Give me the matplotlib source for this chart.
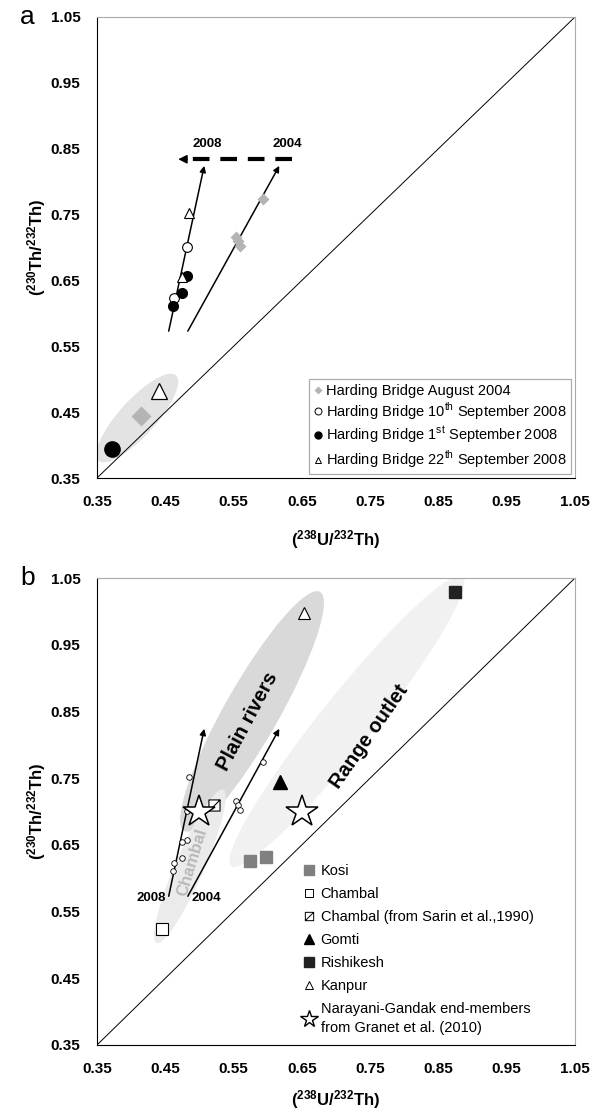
import numpy as np
import matplotlib
matplotlib.use("Agg")
import matplotlib.pyplot as plt
from matplotlib import font_manager
from matplotlib.patches import Ellipse
from matplotlib.path import Path
from matplotlib.lines import Line2D

names = {f.name for f in font_manager.fontManager.ttflist}
NARROW = 'Liberation Sans Narrow' if 'Liberation Sans Narrow' in names else 'Liberation Sans'
plt.rcParams['font.family'] = ['Liberation Sans', 'DejaVu Sans']
plt.rcParams['mathtext.fontset'] = 'custom'
plt.rcParams['mathtext.rm'] = 'Liberation Sans'
plt.rcParams['mathtext.bf'] = NARROW + ':bold'

# ---- data : (238U/232Th), (230Th/232Th)
aug2004_x = [0.593, 0.553, 0.556, 0.559]
aug2004_y = [0.774, 0.716, 0.710, 0.702]
sep10_x = [0.482, 0.463]
sep10_y = [0.701, 0.623]
sep01_x = [0.482, 0.474, 0.461]
sep01_y = [0.657, 0.631, 0.611]
sep22_x = [0.485, 0.474]
sep22_y = [0.752, 0.655]
# large symbols
big_circle = (0.372, 0.394)
big_diamond = (0.414, 0.444)
big_triangle = (0.441, 0.482)

# trend arrows (start, end)
arrow_2008 = ((0.455, 0.573), (0.507, 0.824))
arrow_2004 = ((0.483, 0.573), (0.617, 0.824))

kosi_x = [0.574, 0.597]
kosi_y = [0.626, 0.632]
chambal = (0.445, 0.524)
chambal_sarin = (0.521, 0.710)
gomti = (0.618, 0.744)
rishikesh = (0.874, 1.029)
kanpur = (0.653, 0.998)
stars_x = [0.500, 0.650]
stars_y = [0.700, 0.700]

ticks = [0.35, 0.45, 0.55, 0.65, 0.75, 0.85, 0.95, 1.05]

fig = plt.figure(figsize=(5.97, 11.14), dpi=100)
ax_a = fig.add_axes([97/597, 1-478/1114, 478/597, 461/1114])
ax_b = fig.add_axes([97/597, 1-1045/1114, 478/597, 467/1114])

ylab = r'$\mathbf{(^{230}Th/^{232}Th)}$'
xlab = r'$\mathbf{(^{238}U/^{232}Th)}$'

for ax in (ax_a, ax_b):
    ax.set_xlim(0.35, 1.05)
    ax.set_ylim(0.35, 1.05)
    ax.set_xticks(ticks)
    ax.set_yticks(ticks)
    ax.set_xticklabels(['%.2f' % t for t in ticks], family=NARROW, weight='bold', fontsize=11)
    ax.set_yticklabels(['%.2f' % t for t in ticks], family=NARROW, weight='bold', fontsize=11)
    ax.tick_params(length=0, pad=12)
    for s in ('top', 'right'):
        ax.spines[s].set_color('#aaaaaa')
    for s in ('left', 'bottom'):
        ax.spines[s].set_color('black')
    ax.plot([0.35, 1.05], [0.35, 1.05], color='black', lw=0.7, zorder=2)
    ax.set_xlabel(xlab, fontsize=12, va='center')
    ax.set_ylabel(ylab, fontsize=12, va='center')
    ax.yaxis.set_label_coords(-60/478, 0.5)

ax_a.xaxis.set_label_coords(0.5, -62/461)
ax_b.xaxis.set_label_coords(0.5, -55/467)

def trend(ax, arr):
    (x0, y0), (x1, y1) = arr
    ax.annotate('', xy=(x1, y1), xytext=(x0, y0),
                arrowprops=dict(arrowstyle='-|>', color='black', lw=1.1,
                                mutation_scale=9, shrinkA=0, shrinkB=0), zorder=3)

# ---------------- panel a
ax = ax_a
ax.add_patch(Ellipse((0.409, 0.441), 0.172, 0.054, angle=49, color='#e3e3e3', lw=0, zorder=1))
trend(ax, arrow_2008)
trend(ax, arrow_2004)
ax.plot([0.635, 0.478], [0.834, 0.834], color='black', lw=3, dashes=(4, 2.6), zorder=3)
ax.annotate('', xy=(0.469, 0.834), xytext=(0.482, 0.834),
            arrowprops=dict(arrowstyle='-|>', color='black', lw=1, mutation_scale=13,
                            shrinkA=0, shrinkB=0), zorder=3)
ax.text(0.511, 0.848, '2008', family=NARROW, weight='bold', fontsize=9.5, ha='center', va='bottom')
ax.text(0.628, 0.848, '2004', family=NARROW, weight='bold', fontsize=9.5, ha='center', va='bottom')

ax.plot(aug2004_x, aug2004_y, 'D', ms=6, color='#b4b4b4', mec='none', zorder=4)
ax.plot(sep10_x, sep10_y, 'o', ms=7, mfc='white', mec='black', mew=0.8, zorder=4)
ax.plot(sep01_x, sep01_y, 'o', ms=7, color='black', zorder=4)
ax.plot(sep22_x, sep22_y, '^', ms=7, mfc='white', mec='black', mew=0.8, zorder=4)
ax.plot(*big_circle, 'o', ms=11, color='black', zorder=4)
ax.plot(*big_diamond, 'D', ms=10, color='#b4b4b4', mec='none', zorder=4)
ax.plot(*big_triangle, '^', ms=12, mfc='white', mec='black', mew=0.9, zorder=4)

h_a = [
    Line2D([], [], ls='none', marker='D', ms=4, color='#b4b4b4', mec='none'),
    Line2D([], [], ls='none', marker='o', ms=5, mfc='white', mec='black', mew=0.7),
    Line2D([], [], ls='none', marker='o', ms=5, color='black'),
    Line2D([], [], ls='none', marker='^', ms=5, mfc='white', mec='black', mew=0.7),
]
l_a = ['Harding Bridge August 2004',
       r'Harding Bridge 10$^{\mathrm{th}}$ September 2008',
       r'Harding Bridge 1$^{\mathrm{st}}$ September 2008',
       r'Harding Bridge 22$^{\mathrm{th}}$ September 2008']
leg = ax.legend(h_a, l_a, loc='lower right', fontsize=10.5, frameon=True, fancybox=False,
                edgecolor='#999999', handlelength=0.6, handletextpad=0.3,
                labelspacing=0.18, borderpad=0.3, borderaxespad=0.25)
leg.get_frame().set_linewidth(0.9)

ax.text(-0.145, 1.0, 'a', transform=ax.transAxes, fontsize=19, ha='center', va='center')

# ---------------- panel b
ax = ax_b
ax.add_patch(Ellipse((0.716, 0.835), 0.55, 0.078, angle=52, color='#f1f1f1', lw=0, zorder=1))
ax.add_patch(Ellipse((0.577, 0.850), 0.41, 0.08, angle=61, color='#d9d9d9', lw=0, zorder=1))
ax.add_patch(Ellipse((0.486, 0.618), 0.25, 0.042, angle=67, color='#ebebeb', lw=0, zorder=1))
ax.text(0.570, 0.835, 'Plain rivers', rotation=62, weight='bold', fontsize=14.5,
        ha='center', va='center', zorder=2)
ax.text(0.748, 0.812, 'Range outlet', rotation=55, weight='bold', fontsize=14.5,
        ha='center', va='center', zorder=2)
ax.text(0.489, 0.624, 'Chambal', rotation=73, weight='bold', fontsize=12, color='#b8b8b8',
        ha='center', va='center', zorder=2)

trend(ax, arrow_2008)
trend(ax, arrow_2004)
ax.text(0.430, 0.570, '2008', family=NARROW, weight='bold', fontsize=9.5, ha='center', va='center')
ax.text(0.510, 0.570, '2004', family=NARROW, weight='bold', fontsize=9.5, ha='center', va='center')

hb_x = aug2004_x + sep10_x + sep01_x + sep22_x
hb_y = aug2004_y + sep10_y + sep01_y + sep22_y
ax.plot(hb_x, hb_y, 'o', ms=4, mfc='white', mec='black', mew=0.6, zorder=4)

hatch_sq = Path([(-1, -1), (1, -1), (1, 1), (-1, 1), (-1, -1), (-1, -1), (1, 1)],
                [Path.MOVETO, Path.LINETO, Path.LINETO, Path.LINETO, Path.CLOSEPOLY,
                 Path.MOVETO, Path.LINETO])

ax.plot(kosi_x, kosi_y, 's', ms=8, color='#808080', zorder=4)
ax.plot(*chambal, 's', ms=8, mfc='white', mec='black', mew=0.8, zorder=4)
ax.plot(*chambal_sarin, marker=hatch_sq, ms=8, mfc='white', mec='black', mew=0.8, zorder=4)
ax.plot(*gomti, '^', ms=10, color='black', zorder=4)
ax.plot(*rishikesh, 's', ms=8, color='#222222', zorder=4)
ax.plot(*kanpur, '^', ms=8, mfc='white', mec='black', mew=0.8, zorder=4)
ax.plot(stars_x, stars_y, '*', ms=24, mfc='white', mec='black', mew=1.1, zorder=5)

h_b = [
    Line2D([], [], ls='none', marker='s', ms=7, color='#808080'),
    Line2D([], [], ls='none', marker='s', ms=6, mfc='white', mec='black', mew=0.7),
    Line2D([], [], ls='none', marker=hatch_sq, ms=6, mfc='white', mec='black', mew=0.7),
    Line2D([], [], ls='none', marker='^', ms=7, color='black'),
    Line2D([], [], ls='none', marker='s', ms=7, color='#222222'),
    Line2D([], [], ls='none', marker='^', ms=6, mfc='white', mec='black', mew=0.7),
    Line2D([], [], ls='none', marker='*', ms=13, mfc='white', mec='black', mew=1.0),
]
l_b = ['Kosi', 'Chambal', 'Chambal (from Sarin et al.,1990)', 'Gomti', 'Rishikesh', 'Kanpur',
       'Narayani-Gandak end-members\nfrom Granet et al. (2010)']
leg_b = ax.legend(h_b, l_b, loc='upper left', bbox_to_anchor=(0.41, 0.41), fontsize=10.5,
                  frameon=False, handlelength=0.8, handletextpad=0.4, labelspacing=0.62,
                  borderpad=0.2)
leg_b.get_texts()[-1].set_linespacing(1.45)

ax.text(-0.145, 1.0, 'b', transform=ax.transAxes, fontsize=19, ha='center', va='center')

fig.savefig('out.png', dpi=100)
